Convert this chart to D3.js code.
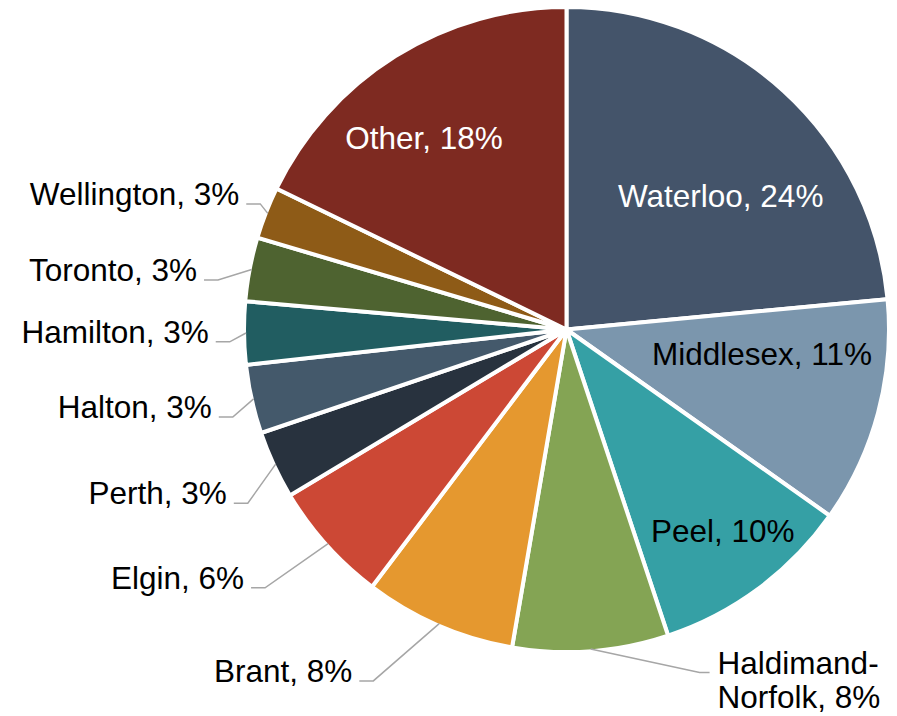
<!DOCTYPE html>
<html>
<head>
    <meta charset="utf-8">
    <title>Share by Region</title>
    <style type="text/css">
        body { margin: 0; background: #fff; }
        .slice { stroke: #fff; stroke-width: 4px; }
        .leader { fill: none; stroke: #a6a6a6; stroke-width: 1.5px; }
        .lbl { font-family: "Liberation Sans", Arial, sans-serif; font-size: 31.5px; }
    </style>
</head>
<body>
    <script src="https://d3js.org/d3.v7.min.js"></script>
    <script>

        // data (percent share)
        var regions = ["Waterloo", "Middlesex", "Peel", "Haldimand-Norfolk", "Brant", "Elgin",
                       "Perth", "Halton", "Hamilton", "Toronto", "Wellington", "Other"];
        var shares  = [23.5, 11.3, 10.1, 7.8, 7.6, 6.1, 3.4, 3.45, 3.15, 3.2, 2.6, 17.8];
        var colours = ["#44546a", "#7b96ad", "#35a0a5", "#84a454", "#e5982f", "#cc4835",
                       "#28323e", "#44596b", "#215d61", "#4e6330", "#8e5b17", "#7e2a21"];

        // label placement: [radius, angle in degrees clockwise from 12 o'clock]
        // inside labels sit at that point, outside ones use it as the leader elbow
        var labelSpot = [[204, 49.1], [197, 97.1], [255, 142.2], [368, 158.8], [401, 208.8], [397, 229.4],
                         [363, 241.4], [345, 255.3], [337, 267.9], [352, 278.1], [331, 292.3], [239, 323.4]];
        var inside    = [true, true, true, false, false, false, false, false, false, false, false, true];
        var textFill  = ["#fff", "#000", "#000", "#000", "#000", "#000", "#000", "#000", "#000", "#000", "#000", "#fff"];

        var width = 897, height = 716,
            cx = 566.5, cy = 329.5,
            radius = 322.5;

        var svg = d3.select("body")
            .append("svg")
            .attr("width", width)
            .attr("height", height);

        var chart = svg.append("g")
            .attr("transform", "translate(" + cx + "," + cy + ")");

        var total = d3.sum(shares);

        var pie = d3.pie()
            .sort(null)
            .value(function(d){ return d; });

        var arc = d3.arc()
            .innerRadius(0)
            .outerRadius(radius);

        // edge of the visible (stroke-trimmed) pie
        var edgeArc = d3.arc()
            .innerRadius(radius - 2)
            .outerRadius(radius - 2);

        var arcs = pie(shares);

        chart.selectAll(".slice")
            .data(arcs)
            .enter()
            .append("path")
            .attr("class", "slice")
            .attr("d", arc)
            .attr("fill", function(d, i){ return colours[i]; });

        function polar(r, deg){
            var a = deg * Math.PI / 180;
            return [r * Math.sin(a), -r * Math.cos(a)];
        }

        function labelText(i){
            return regions[i] + ", " + Math.round(shares[i] / total * 100) + "%";
        }

        arcs.forEach(function(d, i){
            var p = polar(labelSpot[i][0], labelSpot[i][1]);

            if (inside[i]) {
                chart.append("text")
                    .attr("class", "lbl")
                    .attr("x", p[0])
                    .attr("y", p[1])
                    .attr("dy", "0.35em")
                    .attr("text-anchor", "middle")
                    .attr("fill", textFill[i])
                    .text(labelText(i));
                return;
            }

            var edge = edgeArc.centroid(d);
            var rightSide = p[0] > 0;
            var tail = rightSide ? p[0] + 10 : p[0] - 14;

            chart.append("path")
                .attr("class", "leader")
                .attr("d", d3.line()([edge, p, [tail, p[1]]]));

            var t = chart.append("text")
                .attr("class", "lbl")
                .attr("fill", textFill[i])
                .attr("text-anchor", rightSide ? "start" : "end")
                .attr("x", rightSide ? tail + 8 : tail - 7)
                .attr("y", p[1] + 1);

            if (regions[i].indexOf("-") > 0) {
                // wrap after the hyphen, as in the original
                var parts = labelText(i).split("-");
                t.append("tspan")
                    .attr("x", rightSide ? tail + 8 : tail - 7)
                    .text(parts[0] + "-");
                t.append("tspan")
                    .attr("x", rightSide ? tail + 8 : tail - 7)
                    .attr("dy", 34)
                    .text(parts[1]);
            } else {
                t.text(labelText(i));
            }
        });

    </script>
</body>
</html>
